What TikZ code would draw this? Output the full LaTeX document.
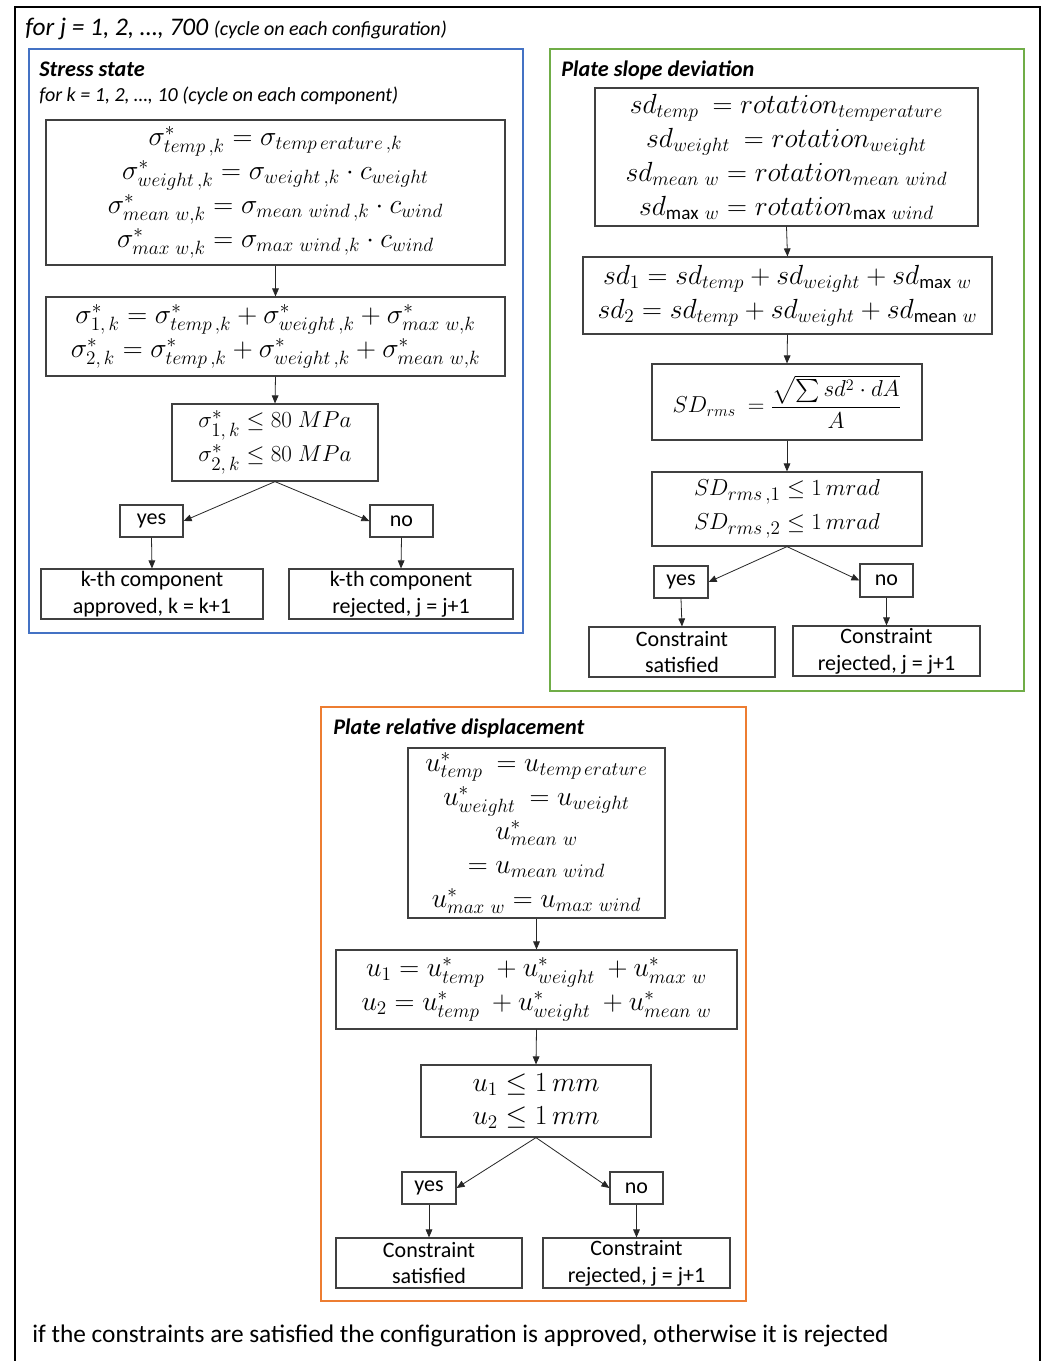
\documentclass[tikz,border=0pt]{standalone}
\usepackage{fontspec}
\setmainfont{Carlito}
\usepackage{amsmath}
\usetikzlibrary{arrows.meta}
\definecolor{bluebox}{HTML}{4472C4}
\definecolor{greenbox}{HTML}{70AD47}
\definecolor{orangebox}{HTML}{ED7D31}
\definecolor{edge}{HTML}{404040}
\begin{document}
\begin{tikzpicture}[x=0.75pt,y=-0.75pt,
  bx/.style={draw=edge,line width=0.9pt,inner sep=0pt,align=center},
  sz/.style 2 args={minimum width=#1*0.75pt,minimum height=#2*0.75pt},
  arr/.style={draw=black!85,line width=0.6pt,-{Triangle[length=6pt,width=5pt]}},
  grp/.style={line width=1.5pt},
  lbl/.style={font=\fontsize{16.5}{20}\selectfont},
  mth/.style={font=\fontsize{20}{25.5}\selectfont},
  mthb/.style={font=\fontsize{20.5}{25.5}\selectfont},
  ttl/.style={anchor=base west,font=\fontsize{16.7}{20}\selectfont\bfseries\itshape}]
\useasboundingbox (0,0) rectangle (1045,1361);
\fill[white] (0,0) rectangle (1045,1361);
\draw[line width=1.6pt] (15,1361) -- (15,7) -- (1040,7) -- (1040,1361);
\node[anchor=base west,inner sep=0pt] (hdr) at (25,35) {\fontsize{19}{22}\selectfont\itshape for j = 1, 2, …, 700 {\fontsize{15}{18}\selectfont(cycle on each configuration)}};

% ---------- Stress state ----------
\draw[grp,draw=bluebox] (29,49) rectangle (523,633);
\node[ttl,inner sep=0pt] (st) at (39,76) {Stress state};
\node[anchor=base west,inner sep=0pt,font=\fontsize{15}{18}\selectfont\itshape] (sst) at (39,101) {for k = 1, 2, …, 10 (cycle on each component)};
\node[bx,sz={459}{145},mth] (S1) at (275.5,192.5) {%
 $\sigma^*_{temp\,,k} = \sigma_{temp\,erature\,,k}$\\
 $\sigma^*_{weight\,,k} = \sigma_{weight\,,k}\cdot c_{weight}$\\
 $\sigma^*_{mean\ w,k} = \sigma_{mean\ wind\,,k}\cdot c_{wind}$\\
 $\sigma^*_{max\ w,k} = \sigma_{max\ wind\,,k}\cdot c_{wind}$};
\node[bx,sz={459}{79},mth] (S2) at (275.5,336.5) {%
 $\sigma^*_{1,\,k} = \sigma^*_{temp\,,k}+\sigma^*_{weight\,,k}+\sigma^*_{max\ w,k}$\\
 $\sigma^*_{2,\,k} = \sigma^*_{temp\,,k}+\sigma^*_{weight\,,k}+\sigma^*_{mean\ w,k}$};
\node[bx,sz={206}{77},font=\fontsize{19}{25.5}\selectfont] (S3) at (275,442.5) {%
 $\sigma^*_{1,\,k} \le 80\ MPa$\\ $\sigma^*_{2,\,k} \le 80\ MPa$};
\node[bx,sz={63}{32},lbl] (Syes) at (151.5,521) {yes};
\node[bx,sz={63}{32},lbl] (Sno) at (401.5,521) {no};
\node[bx,sz={222}{50},lbl] (Sapp) at (152,594) {k-th component\\approved, k = k+1};
\node[bx,sz={224}{50},lbl] (Srej) at (401,594) {k-th component\\rejected, j = j+1};
\draw[arr] (S1.south) -- (S2.north);
\draw[arr] (S2.south) -- (S3.north);
\draw[arr] (S3.south) -- (Syes.east);
\draw[arr] (S3.south) -- (Sno.west);
\draw[arr] (Syes.south) -- (Sapp.north);
\draw[arr] (Sno.south) -- (Srej.north);

% ---------- Plate slope deviation ----------
\draw[grp,draw=greenbox] (550,49) rectangle (1024,691);
\node[ttl,inner sep=0pt] (pt) at (561,76) {Plate slope deviation};
\node[bx,sz={383}{138},mthb] (P1) at (786.5,157) {%
 $sd_{temp}\ = rotation_{temperature}$\\
 $sd_{weight}\ = rotation_{weight}$\\
 $sd_{mean\ w} = rotation_{mean\ wind}$\\
 $sd_{\mathrm{max}\ w} = rotation_{\mathrm{max}\ wind}$};
\node[bx,sz={409}{77},mth] (P2) at (787.5,295.5) {%
 $sd_1 = sd_{temp} +sd_{weight} +sd_{\mathrm{max}\ w}$\\
 $sd_2 = sd_{temp} +sd_{weight} +sd_{\mathrm{mean}\ w}$};
\node[bx,sz={270}{76},font=\fontsize{18}{24}\selectfont] (P3) at (787,402) {%
 $SD_{rms}\ = \dfrac{\sqrt{\sum sd^2\cdot dA}}{A}$};
\node[bx,sz={270}{74},font=\fontsize{19}{25.5}\selectfont] (P4) at (787,509) {%
 $SD_{rms\,,1} \le 1\,mrad$\\ $SD_{rms\,,2} \le 1\,mrad$};
\node[bx,sz={54}{32},lbl] (Pyes) at (681,582) {yes};
\node[bx,sz={53}{33},lbl] (Pno) at (886.5,580.5) {no};
\node[bx,sz={186}{50},lbl] (Psat) at (682,652) {Constraint\\satisfied};
\node[bx,sz={187}{50},lbl] (Prej) at (886.5,651) {Constraint\\rejected, j = j+1};
\draw[arr] (P1.south) -- (P2.north);
\draw[arr] (P2.south) -- (P3.north);
\draw[arr] (P3.south) -- (P4.north);
\draw[arr] (P4.south) -- (Pyes.east);
\draw[arr] (P4.south) -- (Pno.west);
\draw[arr] (Pyes.south) -- (Psat.north);
\draw[arr] (Pno.south) -- (Prej.north);

% ---------- Plate relative displacement ----------
\draw[grp,draw=orangebox] (321,707) rectangle (746,1301);
\node[ttl,inner sep=0pt] (ut) at (333,734) {Plate relative displacement};
\node[bx,sz={257}{170},mthb] (U1) at (536.5,833) {%
 $u^*_{temp}\ = u_{temp\,erature}$\\
 $u^*_{weight}\ = u_{weight}$\\
 $u^*_{mean\ w}$\hspace*{50pt}\\
 $= u_{mean\ wind}$\\
 $u^*_{max\ w} = u_{max\ wind}$};
\node[bx,sz={401}{79},mthb] (U2) at (536.5,989.5) {%
 $u_1 = u^*_{temp}\ + u^*_{weight}\ + u^*_{max\ w}$\\
 $u_2 = u^*_{temp}\ + u^*_{weight}\ + u^*_{mean\ w}$};
\node[bx,sz={230}{72},font=\fontsize{19.5}{24.5}\selectfont] (U3) at (536,1101) {%
 $u_1 \le 1\,mm$\\ $u_2 \le 1\,mm$};
\node[bx,sz={54}{32},lbl] (Uyes) at (429,1188) {yes};
\node[bx,sz={53}{32},lbl] (Uno) at (636.5,1188) {no};
\node[bx,sz={186}{50},lbl] (Usat) at (429,1263) {Constraint\\satisfied};
\node[bx,sz={187}{50},lbl] (Urej) at (636.5,1263) {Constraint\\rejected, j = j+1};
\draw[arr] (U1.south) -- (U2.north);
\draw[arr] (U2.south) -- (U3.north);
\draw[arr] (U3.south) -- (Uyes.east);
\draw[arr] (U3.south) -- (Uno.west);
\draw[arr] (Uyes.south) -- (Usat.north);
\draw[arr] (Uno.south) -- (Urej.north);

\node[anchor=base west,inner sep=0pt,font=\fontsize{19}{22}\selectfont] (foot) at (32,1342) {if the constraints are satisfied the configuration is approved, otherwise it is rejected};
\end{tikzpicture}
\end{document}
